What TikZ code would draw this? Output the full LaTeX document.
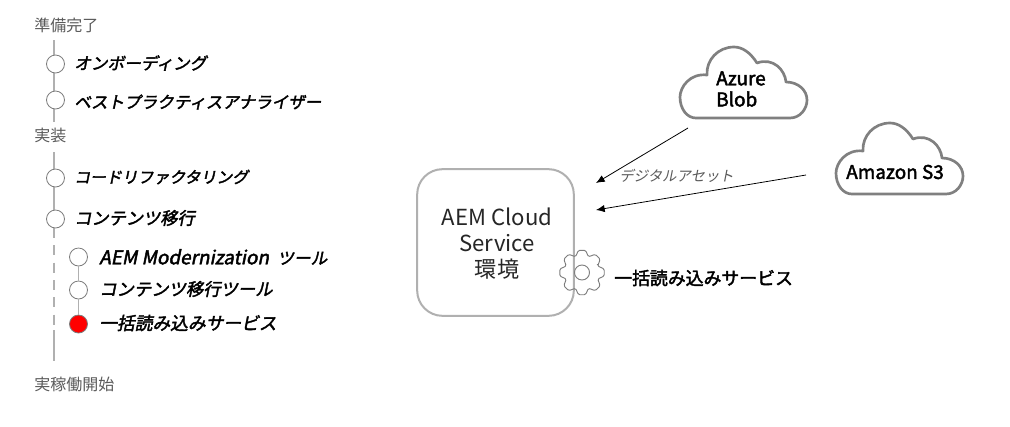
\documentclass[tikz,border=0pt]{standalone}
\usepackage{fontspec}
\usetikzlibrary{arrows.meta}
\newfontfamily\jpreg{Noto Sans CJK JP}
\newfontfamily\jpbold[FakeBold=2.2]{Noto Sans CJK JP}
\newfontfamily\jpital[FakeSlant=0.2,FakeBold=2.2]{Noto Sans CJK JP}
\newfontfamily\jpslant[FakeSlant=0.2]{Noto Sans CJK JP}
\definecolor{rail}{RGB}{176,176,176}
\definecolor{ring}{RGB}{125,125,125}
\definecolor{head}{RGB}{90,90,90}
\definecolor{cloudline}{RGB}{128,128,128}
\newcommand{\stepfont}[1]{\jpital\fontsize{#1}{15}\selectfont}
\tikzset{
  railline/.style={draw=rail,line width=1.4pt},
  raildash/.style={railline,dash pattern=on 7.5pt off 5.5pt},
  stepdot/.style={circle,draw=ring,fill=white,line width=0.6pt,minimum size=13.5pt,inner sep=0pt},
  activedot/.style={stepdot,fill=red},
  phase/.style={anchor=west,inner sep=0pt,text=head,font=\jpreg\fontsize{12}{14}\selectfont},
  steptext/.style={anchor=west,inner sep=0pt,text=black},
  cloudtext/.style={anchor=west,inner sep=0pt,text=black,font=\jpbold\fontsize{14.2}{15.8}\selectfont,align=left},
  assetarrow/.style={draw=black,line width=0.6pt,-{Latex[length=6.5pt,width=5.5pt]}},
}
\newcommand{\cloudshape}[2]{%
  \draw[cloudline,line width=2pt,fill=white,line join=round] (#1+16,#2+71)
    -- (#1+110,#2+71)
    .. controls (#1+120,#2+71) and (#1+127,#2+62) .. (#1+127,#2+53)
    .. controls (#1+127,#2+43) and (#1+118,#2+35) .. (#1+106,#2+35)
    .. controls (#1+105,#2+23) and (#1+93,#2+10) .. (#1+77,#2+16)
    .. controls (#1+70,#2+5) and (#1+62,#2+0) .. (#1+54,#2+0)
    .. controls (#1+38,#2+0) and (#1+26,#2+13) .. (#1+27,#2+28)
    .. controls (#1+10,#2+26) and (#1+0,#2+40) .. (#1+0,#2+50)
    .. controls (#1+0,#2+62) and (#1+7,#2+71) .. (#1+16,#2+71) -- cycle;}
\begin{document}
\begin{tikzpicture}[x=0.75pt,y=-0.75pt]
\useasboundingbox[fill=white] (0,0) rectangle (1010,426);

% timeline rails
\coordinate (r1a) at (54,40); \coordinate (r1b) at (54,122);
\coordinate (r2a) at (54,152); \coordinate (r2b) at (54,228);
\coordinate (r3a) at (54,330); \coordinate (r3b) at (54,361);
\draw[railline] (r1a) -- (r1b);
\draw[railline] (r2a) -- (r2b);
\draw[raildash] (r2b) -- (r3a);
\draw[railline] (r3a) -- (r3b);

\node[phase] (p1) at (34,25) {準備完了};
\node[phase] (p2) at (34,135) {実装};
\node[phase] (p3) at (34,384) {実稼働開始};

\node[stepdot] (s1) at (55.5,64) {};
\node[stepdot] (s2) at (55.5,100) {};
\node[stepdot] (s3) at (55.5,178) {};
\node[stepdot] (s4) at (55.5,219) {};
\node[stepdot] (t1) at (78.5,257) {};
\node[stepdot] (t2) at (78.5,290) {};
\node[activedot] (t3) at (78.5,324) {};
\draw[railline] (t1) -- (t2);
\draw[railline] (t2) -- (t3);

\node[steptext,font=\stepfont{12.5}] (l1) at (74,63) {オンボーディング};
\node[steptext,font=\stepfont{12.4}] (l2) at (74,102) {ベストプラクティスアナライザー};
\node[steptext,font=\stepfont{11.9}] (l3) at (74,177) {コードリファクタリング};
\node[steptext,font=\stepfont{12.9}] (l4) at (74,218) {コンテンツ移行};
\node[steptext,font=\stepfont{12.5}] (l5) at (99,257) {{\fontsize{14.2}{15}\selectfont AEM Modernization}\hspace{0.5em}ツール};
\node[steptext,font=\stepfont{13}] (l6) at (99,289) {コンテンツ移行ツール};
\node[steptext,font=\stepfont{13.3}] (l7) at (99,323) {一括読み込みサービス};

% environment box
\node[draw=rail,line width=1.5pt,rounded corners=19pt,fill=white,minimum width=117.5pt,minimum height=110pt,inner sep=0pt] (box) at (495.5,242.5) {};
\node[inner sep=0pt,align=center,text=black!85,font=\jpreg\fontsize{16.6}{19.5}\selectfont,anchor=center] (boxtext) at (497,244) {AEM Cloud\\Service\\環境};

% gear
\draw[ring,line width=0.7pt,rounded corners=1pt,shift={(582,272.5)}]
  (-22.5:17) \foreach \a in {0,45,...,315} { -- (\a-9:22.5) -- (\a+9:22.5) -- (\a+22.5:17) } -- cycle;
\draw[ring,line width=0.7pt] (582,272.5) circle[radius=7.5];
\node[anchor=west,inner sep=0pt,text=black,font=\jpbold\fontsize{13.4}{16}\selectfont] (svc) at (614,278) {一括読み込みサービス};

% clouds
\cloudshape{680}{47}
\cloudshape{836}{123}
\node[cloudtext] (azure) at (716,89) {Azure\\Blob};
\node[cloudtext] (s3) at (846,172) {Amazon S3};

% arrows
\coordinate (az) at (688,128);
\coordinate (amz) at (806,175);
\coordinate (d1) at (596,183);
\coordinate (d2) at (596,210);
\draw[assetarrow] (az) -- (d1);
\draw[assetarrow] (amz) -- (d2);
\node[anchor=west,inner sep=0pt,text=head,font=\jpslant\fontsize{10.8}{13}\selectfont] (asset) at (619,176) {デジタルアセット};
\end{tikzpicture}
\end{document}
